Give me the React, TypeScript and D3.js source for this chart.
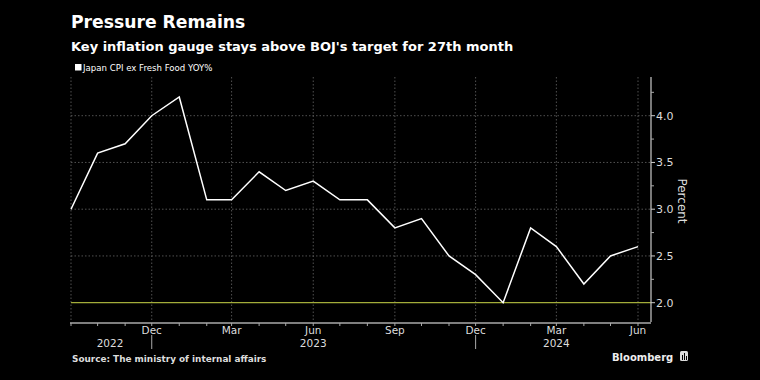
import React from "react";
import * as d3 from "d3";

const months = [
  "2022-09", "2022-10", "2022-11", "2022-12",
  "2023-01", "2023-02", "2023-03", "2023-04", "2023-05", "2023-06",
  "2023-07", "2023-08", "2023-09", "2023-10", "2023-11", "2023-12",
  "2024-01", "2024-02", "2024-03", "2024-04", "2024-05", "2024-06",
];
const cpiValues = [
  3.0, 3.6, 3.7, 4.0,
  4.2, 3.1, 3.1, 3.4, 3.2, 3.3,
  3.1, 3.1, 2.8, 2.9, 2.5, 2.3,
  2.0, 2.8, 2.6, 2.2, 2.5, 2.6,
];
const yTicks = [2.0, 2.5, 3.0, 3.5, 4.0];
const yMinorTicks = [2.25, 2.75, 3.25, 3.75, 4.25];
const monthTickLabels = ["Dec", "Mar", "Jun", "Sep", "Dec", "Mar", "Jun"];
const monthTickDates = ["2022-12", "2023-03", "2023-06", "2023-09", "2023-12", "2024-03", "2024-06"];
const gridDates = ["2022-09", "2022-12", "2023-03", "2023-06", "2023-09", "2023-12", "2024-03", "2024-06"];
const yearLabels = ["2022", "2023", "2024"];
const yearLabelDates = ["2022-10-15", "2023-06-01", "2024-03-01"];
const yearSeparatorDates = ["2022-12", "2023-12"];
const targetValue = 2.0;

const parse = (s: string) => {
  const p = s.split("-").map(Number);
  return new Date(p[0], p[1] - 1, p[2] || 1);
};

const FONT = "'DejaVu Sans', 'Open Sans', sans-serif";

export default function App() {
  const W = 760, H = 380;
  const left = 71, right = 651, top = 77, bottom = 322;

  const x = d3.scaleTime()
    .domain([parse("2022-09"), parse("2024-06")])
    .range([71, 638]);
  const y = d3.scaleLinear().domain([2.0, 4.0]).range([302.7, 115.7]);

  const data = months.map((m, i) => ({ d: parse(m), v: cpiValues[i] }));
  const line = d3.line<{ d: Date; v: number }>()
    .x((p) => x(p.d))
    .y((p) => y(p.v));

  const allMonths = d3.timeMonth.range(parse("2022-09"), parse("2024-07"));

  return (
    <svg width={W} height={H} style={{ display: "block", position: "absolute", left: 0, top: 0, background: "#000" }}>
      <rect x={0} y={0} width={W} height={H} fill="#000" />
      <text x={71} y={28} fill="#fff" fontFamily={FONT} fontWeight="bold" fontSize={17.2}>Pressure Remains</text>
      <text x={71} y={51} fill="#fff" fontFamily={FONT} fontWeight="bold" fontSize={13}>Key inflation gauge stays above BOJ's target for 27th month</text>
      <rect x={75} y={64} width={6.5} height={6.5} fill="#fff" />
      <text x={83} y={71} fill="#fff" fontFamily={FONT} fontSize={8.6}>Japan CPI ex Fresh Food YOY%</text>

      {/* horizontal grid */}
      {yTicks.filter((t) => t !== targetValue).map((t) => (
        <line key={"h" + t} x1={left} x2={right} y1={y(t)} y2={y(t)} stroke="#666" strokeWidth={0.8} strokeDasharray="1.5,2" />
      ))}
      {/* vertical grid */}
      {gridDates.map((g) => (
        <line key={"v" + g} x1={x(parse(g))} x2={x(parse(g))} y1={top} y2={bottom} stroke="#666" strokeWidth={0.8} strokeDasharray="1.5,2" />
      ))}
      {/* target line */}
      <line x1={left} x2={right} y1={y(targetValue)} y2={y(targetValue)} stroke="#a3ad3a" strokeWidth={1.3} />

      {/* series */}
      <path d={line(data) || ""} fill="none" stroke="#fff" strokeWidth={1.5} strokeLinejoin="miter" />

      {/* right axis */}
      <line x1={right} x2={right} y1={top} y2={bottom} stroke="#ccc" strokeWidth={1.2} />
      {yTicks.map((t) => (
        <g key={"yt" + t}>
          <line x1={right} x2={right + 4} y1={y(t)} y2={y(t)} stroke="#ccc" />
          <text x={right + 5} y={y(t) + 4} fill="#ddd" fontFamily={FONT} fontSize={11}>{t.toFixed(1)}</text>
        </g>
      ))}
      {yMinorTicks.map((t) => (
        <line key={"ym" + t} x1={right} x2={right + 3} y1={y(t)} y2={y(t)} stroke="#aaa" />
      ))}
      <text transform={`translate(678, 201) rotate(90)`} textAnchor="middle" fill="#ddd" fontFamily={FONT} fontSize={12}>Percent</text>

      {/* bottom axis */}
      <line x1={left - 1} x2={right} y1={bottom + 1} y2={bottom + 1} stroke="#aaa" strokeWidth={1.5} />
      {allMonths.map((m, i) => (
        <line key={"mt" + i} x1={x(m)} x2={x(m)} y1={bottom + 1} y2={bottom + 4} stroke="#aaa" />
      ))}
      {monthTickDates.map((m, i) => (
        <text key={"ml" + i} x={x(parse(m))} y={bottom + 12} textAnchor="middle" fill="#ddd" fontFamily={FONT} fontSize={10.5}>{monthTickLabels[i]}</text>
      ))}
      {yearSeparatorDates.map((m) => (
        <line key={"ys" + m} x1={x(parse(m))} x2={x(parse(m))} y1={335} y2={349} stroke="#aaa" />
      ))}
      {yearLabels.map((yl, i) => (
        <text key={"yl" + yl} x={x(parse(yearLabelDates[i]))} y={347} textAnchor="middle" fill="#ddd" fontFamily={FONT} fontSize={10.5}>{yl}</text>
      ))}

      <text x={72} y={362} fill="#ddd" fontFamily={FONT} fontWeight="bold" fontSize={8.9}>Source: The ministry of internal affairs</text>
      <text x={612} y={361} fill="#eee" fontFamily={FONT} fontWeight="bold" fontSize={10}>Bloomberg</text>
      <g transform="translate(680, 351)">
        <rect x={0} y={0} width={8} height={10} rx={1.5} fill="#ddd" />
        <rect x={2} y={4} width={1} height={5} fill="#000" />
        <rect x={4} y={2} width={1} height={7} fill="#000" />
        <rect x={6} y={5} width={1} height={4} fill="#000" />
      </g>
    </svg>
  );
}
